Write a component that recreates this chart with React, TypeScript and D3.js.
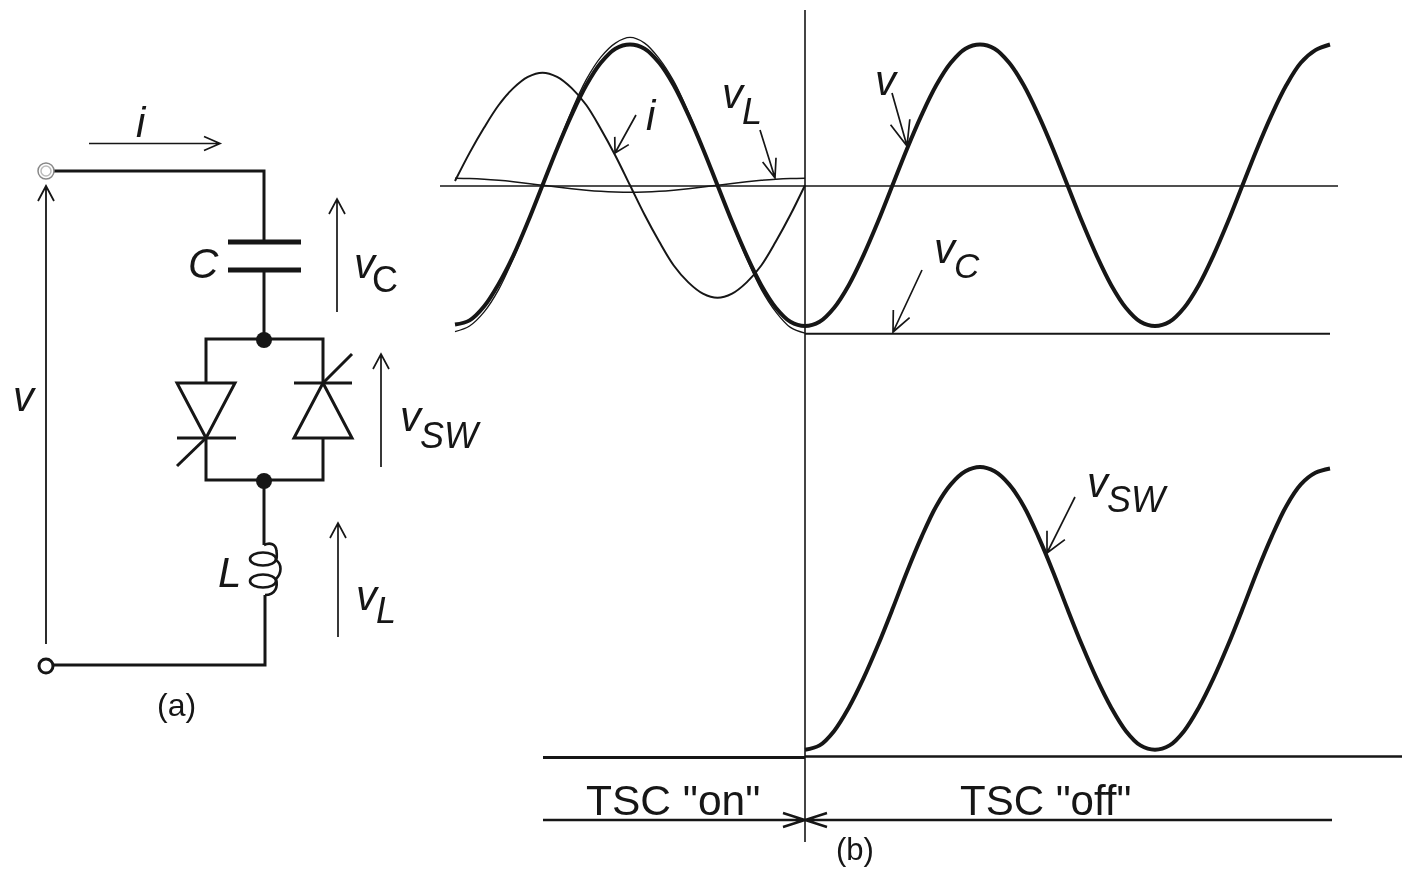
import React from 'react';
import * as d3 from 'd3';

// phase angle in degrees, 0 = the moment the TSC switches off
const onAngles = [-360, -345, -330, -315, -300, -285, -270, -255, -240, -225, -210, -195, -180, -165, -150, -135, -120, -105, -90, -75, -60, -45, -30, -15, 0];
const offAngles = [0, 15, 30, 45, 60, 75, 90, 105, 120, 135, 150, 165, 180, 195, 210, 225, 240, 255, 270, 285, 300, 315, 330, 345, 360, 375, 390, 405, 420, 435, 450, 465, 480, 495, 510, 525, 540];
const allAngles = [...onAngles.slice(0, -1), ...offAngles];

const vOn = [-0.99, -0.96, -0.86, -0.7, -0.5, -0.26, 0, 0.26, 0.5, 0.71, 0.87, 0.97, 1, 0.97, 0.87, 0.71, 0.5, 0.26, 0, -0.26, -0.5, -0.71, -0.87, -0.97];
const vOff = [-1, -0.97, -0.87, -0.71, -0.5, -0.26, 0, 0.26, 0.5, 0.71, 0.87, 0.97, 1, 0.97, 0.87, 0.71, 0.5, 0.26, 0, -0.26, -0.5, -0.71, -0.87, -0.97, -1, -0.97, -0.87, -0.71, -0.5, -0.26, 0, 0.26, 0.5, 0.71, 0.87, 0.96, 1];
const vValues = [...vOn, ...vOff];
const iValues = [0.03, 0.23, 0.41, 0.57, 0.69, 0.77, 0.8, 0.77, 0.69, 0.57, 0.4, 0.21, 0, -0.21, -0.4, -0.57, -0.69, -0.77, -0.8, -0.77, -0.69, -0.57, -0.4, -0.21, 0];
const vLValues = [0.05, 0.048, 0.043, 0.035, 0.025, 0.013, 0, -0.013, -0.025, -0.035, -0.043, -0.048, -0.05, -0.048, -0.043, -0.035, -0.025, -0.013, 0, 0.013, 0.025, 0.035, 0.043, 0.048, 0.05];
const vCOnValues = [-1.04, -1, -0.9, -0.74, -0.52, -0.27, 0, 0.27, 0.53, 0.75, 0.91, 1.01, 1.05, 1.01, 0.9, 0.74, 0.52, 0.27, 0, -0.27, -0.52, -0.74, -0.9, -1.01, -1.05];
const vCOffAngles = [0, 540];
const vCOffValues = [-1.055, -1.055];
const vSwValues = [0.05, 0.08, 0.18, 0.34, 0.54, 0.77, 1.02, 1.28, 1.52, 1.73, 1.88, 1.97, 2, 1.97, 1.88, 1.73, 1.52, 1.28, 1.02, 0.77, 0.54, 0.34, 0.18, 0.08, 0.05, 0.08, 0.18, 0.34, 0.54, 0.77, 1.02, 1.28, 1.52, 1.73, 1.88, 1.96, 1.99];

const x = d3.scaleLinear().domain([-360, 540]).range([455, 1330]);
const yTop = d3.scaleLinear().domain([-1, 1]).range([326, 44.5]);
const ySw = d3.scaleLinear().domain([0, 2]).range([757, 467]);

const trace = (angles: number[], values: number[], y: d3.ScaleLinear<number, number>) =>
  d3.line<number>()
    .x((d) => x(d))
    .y((_, i) => y(values[i]))
    .curve(d3.curveCatmullRom.alpha(0.5))(angles) as string;

const INK = '#161616';
const SANS = '"Liberation Sans", Arial, sans-serif';

// straight line with an open V head at the far end
const Arrow = ({ x1, y1, x2, y2, len = 15, half = 8, w = 1.7 }: any) => {
  const a = Math.atan2(y2 - y1, x2 - x1);
  const px = -Math.sin(a);
  const py = Math.cos(a);
  const bx = x2 - Math.cos(a) * len;
  const by = y2 - Math.sin(a) * len;
  return (
    <path
      d={`M${x1},${y1}L${x2},${y2}M${bx + px * half},${by + py * half}L${x2},${y2}L${bx - px * half},${by - py * half}`}
      fill="none"
      stroke={INK}
      strokeWidth={w}
    />
  );
};

const Label = ({ x, y, size = 42, italic = true, children }: any) => (
  <text x={x} y={y} fontFamily={SANS} fontSize={size} fontStyle={italic ? 'italic' : 'normal'} fill={INK}>
    {children}
  </text>
);

const Circuit = () => (
  <g>
    <Arrow x1={89} y1={143.5} x2={220} y2={143.5} len={16} half={7} />
    <Label x={136} y={137}>i</Label>

    <g fill="none" stroke={INK} strokeWidth={3}>
      <path d="M53,171H264V242" />
      <path d="M264,270V339" />
      <path d="M206,383V339H323V383" />
      <path d="M206,438V480H323V438" />
      <path d="M264,481V545" />
      <path d="M265,595V665H53" />
      <path d="M177,383H235L206,438Z" />
      <path d="M177,438H236" />
      <path d="M206,438L177,466" />
      <path d="M294,383H352" />
      <path d="M323,383L352,438H294Z" />
      <path d="M323,383L352,354" />
      {/* inductor: two turns seen from the side */}
      <g strokeWidth={2.6}>
        <path d="M264,545C270,542 276,544 276.5,551C277,555 277,558 276,560C282,564 282,573 276,579C278,586 276,595 265,595" />
        <ellipse cx={263} cy={559} rx={13} ry={6.5} />
        <ellipse cx={263} cy={581} rx={13} ry={6.5} />
      </g>
    </g>
    <path d="M228,242H301M228,270H301" stroke={INK} strokeWidth={5} fill="none" />
    <circle cx={264} cy={340} r={8} fill={INK} />
    <circle cx={264} cy={481} r={8} fill={INK} />
    <circle cx={46} cy={171} r={8} fill="#fff" stroke="#888" strokeWidth={1.5} />
    <circle cx={46} cy={171} r={5} fill="#fff" stroke="#bbb" strokeWidth={1.5} />
    <circle cx={46} cy={666} r={7} fill="#fff" stroke={INK} strokeWidth={3} />

    <Arrow x1={46} y1={644} x2={46} y2={186} w={1.8} />
    <Arrow x1={337} y1={312} x2={337} y2={199} />
    <Arrow x1={381} y1={467} x2={381} y2={354} />
    <Arrow x1={338} y1={637} x2={338} y2={523} />

    <Label x={13} y={411}>v</Label>
    <Label x={188} y={278}>C</Label>
    <Label x={218} y={587}>L</Label>
    <Label x={354} y={278}>v</Label>
    <Label x={372} y={292} size={36} italic={false}>C</Label>
    <Label x={400} y={431}>v</Label>
    <Label x={420} y={448} size={36}>SW</Label>
    <Label x={356} y={610}>v</Label>
    <Label x={376} y={623} size={36}>L</Label>
    <Label x={157} y={716} size={32} italic={false}>(a)</Label>
  </g>
);

const Waveforms = () => (
  <g fill="none">
    <path d="M440,186H1338" stroke={INK} strokeWidth={1.6} />
    <path d="M805,10V842" stroke={INK} strokeWidth={1.6} />
    <path d="M543,757.5H805" stroke={INK} strokeWidth={3.2} />
    <path d="M805,756.5H1402" stroke={INK} strokeWidth={2.4} />

    <path d={trace(onAngles, vCOnValues, yTop)} stroke={INK} strokeWidth={1.3} />
    <path d={trace(vCOffAngles, vCOffValues, yTop)} stroke={INK} strokeWidth={2.2} />
    <path d={trace(onAngles, vLValues, yTop)} stroke={INK} strokeWidth={1.5} />
    <path d={trace(onAngles, iValues, yTop)} stroke={INK} strokeWidth={2} />
    <path d={trace(allAngles, vValues, yTop)} stroke={INK} strokeWidth={4} />
    <path d={trace(offAngles, vSwValues, ySw)} stroke={INK} strokeWidth={4} />

    <Arrow x1={636} y1={115} x2={615} y2={153} len={14} half={8} />
    <Arrow x1={760} y1={130} x2={775} y2={178} len={19} half={7} />
    <Arrow x1={892} y1={93} x2={907} y2={146} len={25} half={10} />
    <Arrow x1={922} y1={270} x2={893} y2={332} len={20} half={9} />
    <Arrow x1={1075} y1={497} x2={1047} y2={553} len={20} half={10} />

    <Arrow x1={543} y1={820} x2={805} y2={820} len={22} half={7} w={2.4} />
    <Arrow x1={1332} y1={820} x2={805} y2={820} len={22} half={7} w={2.4} />

    <Label x={646} y={130}>i</Label>
    <Label x={722} y={108}>v</Label>
    <Label x={742} y={124} size={36}>L</Label>
    <Label x={875} y={95}>v</Label>
    <Label x={934} y={263}>v</Label>
    <Label x={954} y={278} size={35}>C</Label>
    <Label x={1087} y={497}>v</Label>
    <Label x={1107} y={512} size={36}>SW</Label>
    <Label x={586} y={815} size={42.5} italic={false}>TSC "on"</Label>
    <Label x={960} y={815} size={42} italic={false}>TSC "off"</Label>
    <Label x={836} y={860} size={31} italic={false}>(b)</Label>
  </g>
);

export default function App() {
  return (
    <svg
      width={1402}
      height={879}
      style={{ position: 'absolute', left: 0, top: 0, background: '#fff', filter: 'blur(0.5px)' }}
    >
      <Circuit />
      <Waveforms />
    </svg>
  );
}
